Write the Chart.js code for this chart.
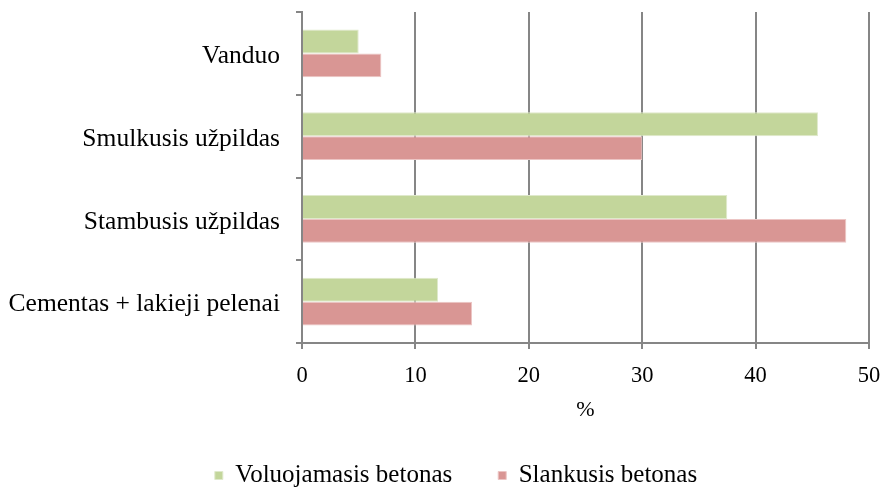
<!DOCTYPE html>
<html>
<head>
<meta charset="utf-8">
<script src="https://cdn.jsdelivr.net/npm/chart.js@4"></script>
<style>
  html, body { margin: 0; padding: 0; background: #fff; }
  #wrap { width: 887px; height: 490px; }
</style>
</head>
<body>
<div id="wrap"><canvas id="chart" width="887" height="490"></canvas></div>
<script>
// --- data ---
const categories = ['Vanduo', 'Smulkusis užpildas', 'Stambusis užpildas', 'Cementas + lakieji pelenai'];
const voluojamasis = [5, 45.5, 37.5, 12];
const slankusis = [7, 30, 48, 15];
const xTicks = [0, 10, 20, 30, 40, 50];

const FONT = "'Liberation Serif', 'Times New Roman', serif";
const GRID = '#868686';

// the legend sits a bit right of the canvas centre in the original
const legendShift = {
    id: 'legendShift',
    afterLayout(chart) {
        if (chart.legend) chart.legend.left = 43;
    }
};

new Chart(document.getElementById('chart'), {
    type: 'bar',
    data: {
        labels: categories,
        datasets: [
            { label: 'Voluojamasis betonas', data: voluojamasis, backgroundColor: '#c3d69b', borderColor: '#dfe9cb', borderWidth: 1, categoryPercentage: 0.58, barPercentage: 1 },
            { label: 'Slankusis betonas', data: slankusis, backgroundColor: '#d99694', borderColor: '#ecc5c4', borderWidth: 1, categoryPercentage: 0.58, barPercentage: 1 }
        ]
    },
    plugins: [legendShift],
    options: {
        indexAxis: 'y',
        responsive: false,
        animation: false,
        layout: { padding: { top: 12, right: 18, left: 0, bottom: -8 } },
        plugins: {
            tooltip: { enabled: false },
            legend: {
                position: 'bottom',
                labels: {
                    boxWidth: 8, boxHeight: 8, padding: 46,
                    color: '#000',
                    font: { family: FONT, size: 25 }
                }
            }
        },
        scales: {
            x: {
                min: 0, max: 50,
                afterBuildTicks: (s) => { s.ticks = xTicks.map(v => ({ value: v })); },
                afterFit: (s) => { s.height = 74; s.paddingLeft = 0; s.paddingRight = 0; },
                grid: { color: GRID, lineWidth: 2, tickLength: 6 },
                border: { color: GRID, width: 2 },
                ticks: { color: '#000', font: { family: FONT, size: 22.5 }, padding: 14, maxRotation: 0 },
                title: { display: true, text: '%', color: '#000', font: { family: FONT, size: 22 }, padding: { top: 0, bottom: -6 } }
            },
            y: {
                afterFit: (s) => { s.width = 302; s.paddingTop = 0; s.paddingBottom = 0; },
                grid: { drawOnChartArea: false, color: GRID, lineWidth: 2, tickLength: 6 },
                border: { color: GRID, width: 2 },
                ticks: { color: '#000', font: { family: FONT, size: 25.5 }, padding: 16, labelOffset: 3 }
            }
        }
    }
});
</script>
</body>
</html>
